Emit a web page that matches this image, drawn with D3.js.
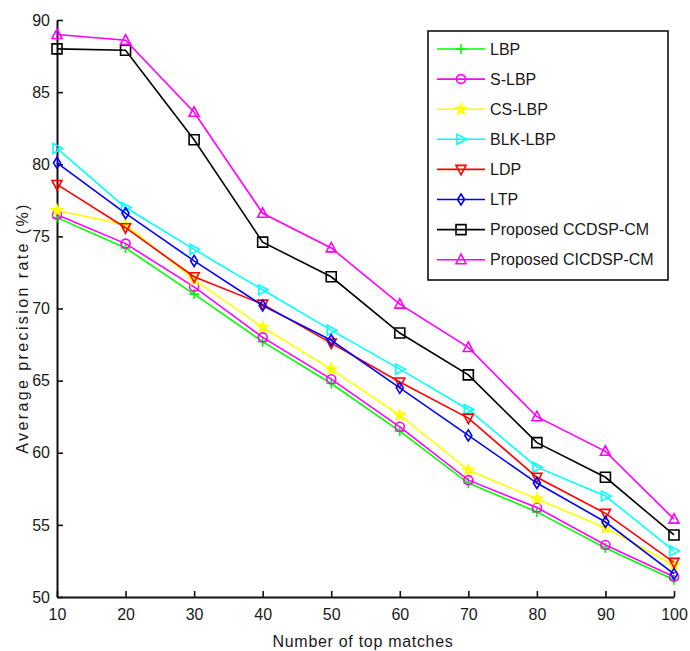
<!DOCTYPE html>
<html>
<head>
<meta charset="utf-8">
<script src="https://cdn.jsdelivr.net/npm/d3@7"></script>
<style>
  body { margin: 0; background: #fff; }
  text { font-family: "Liberation Sans Narrow", "Liberation Sans", Arial, sans-serif; fill: #1a1a1a; }
</style>
</head>
<body>
<div id="chart"></div>
<script>
// x values (number of top matches)
var matches = [10, 20, 30, 40, 50, 60, 70, 80, 90, 100];
var yTicks = [50, 55, 60, 65, 70, 75, 80, 85, 90];

// average precision rate (%) per method
var lbp     = [76.3, 74.2, 71.0, 67.7, 64.8, 61.5, 57.9, 55.9, 53.4, 51.2];
var sLbp    = [76.5, 74.5, 71.5, 68.0, 65.1, 61.8, 58.1, 56.2, 53.6, 51.4];
var csLbp   = [76.8, 75.8, 72.0, 68.7, 65.8, 62.6, 58.8, 56.8, 54.8, 52.2];
var blkLbp  = [81.1, 77.0, 74.1, 71.3, 68.5, 65.8, 63.0, 59.0, 57.0, 53.2];
var ldp     = [78.6, 75.6, 72.2, 70.3, 67.6, 64.9, 62.4, 58.3, 55.8, 52.4];
var ltp     = [80.1, 76.6, 73.3, 70.2, 67.8, 64.5, 61.2, 57.9, 55.2, 51.6];
var ccdsp   = [88.0, 87.9, 81.7, 74.6, 72.2, 68.3, 65.4, 60.7, 58.3, 54.3];
var cicdsp  = [89.0, 88.6, 83.6, 76.6, 74.2, 70.3, 67.3, 62.5, 60.1, 55.4];

var seriesNames = ["LBP", "S-LBP", "CS-LBP", "BLK-LBP", "LDP", "LTP", "Proposed CCDSP-CM", "Proposed CICDSP-CM"];
var seriesValues = [lbp, sLbp, csLbp, blkLbp, ldp, ltp, ccdsp, cicdsp];
var seriesColors = ["#00ff00", "#ff00ff", "#ffff00", "#00ffff", "#ff0000", "#0000ff", "#000000", "#ff00ff"];
var seriesMarkers = ["plus", "circle", "star", "triRight", "triDown", "diamond", "square", "triUp"];

var W = 690, H = 651;
var svg = d3.select("#chart").append("svg")
    .attr("width", W)
    .attr("height", H);

var x = d3.scaleLinear().domain([10, 100]).range([57, 674]);
var y = d3.scaleLinear().domain([50, 90]).range([597, 20]);

// custom marker shapes (matlab style)
function markerPath(type) {
    var p = d3.path();
    var r = 5;
    if (type === "plus") {
        p.moveTo(-r, 0); p.lineTo(r, 0);
        p.moveTo(0, -r); p.lineTo(0, r);
    } else if (type === "circle") {
        p.arc(0, 0, 4.5, 0, 2 * Math.PI);
    } else if (type === "square") {
        p.rect(-5, -5, 10, 10);
    } else if (type === "diamond") {
        p.moveTo(0, -5.5); p.lineTo(3.5, 0); p.lineTo(0, 5.5); p.lineTo(-3.5, 0); p.closePath();
    } else if (type === "triUp") {
        p.moveTo(0, -5.5); p.lineTo(5, 4); p.lineTo(-5, 4); p.closePath();
    } else if (type === "triDown") {
        p.moveTo(0, 5.5); p.lineTo(5, -4); p.lineTo(-5, -4); p.closePath();
    } else if (type === "triRight") {
        p.moveTo(5.5, 0); p.lineTo(-4, -5); p.lineTo(-4, 5); p.closePath();
    } else if (type === "star") {
        for (var i = 0; i < 10; i++) {
            var a = -Math.PI / 2 + i * Math.PI / 5;
            var rr = i % 2 === 0 ? 5.5 : 2.3;
            if (i === 0) p.moveTo(rr * Math.cos(a), rr * Math.sin(a));
            else p.lineTo(rr * Math.cos(a), rr * Math.sin(a));
        }
        p.closePath();
    }
    return p.toString();
}

// --- Axes ---
var yAxis = svg.append("g")
    .attr("transform", "translate(57,0)")
    .call(d3.axisLeft(y).tickValues(yTicks).tickSize(-6).tickSizeOuter(0).tickPadding(7));

var xAxis = svg.append("g")
    .attr("transform", "translate(0,597)")
    .call(d3.axisBottom(x).tickValues(matches).tickSize(-6).tickSizeOuter(0).tickPadding(12));

[xAxis, yAxis].forEach(function (ax) {
    ax.select(".domain").attr("stroke", "#111").attr("stroke-width", 2);
    ax.selectAll(".tick line").attr("stroke", "#111").attr("stroke-width", 1.6);
    ax.selectAll(".tick text").style("font-size", "16px").style("fill", "#1a1a1a");
});

// axis titles
svg.append("text")
    .attr("x", 363)
    .attr("y", 647)
    .attr("text-anchor", "middle")
    .style("font-size", "16px")
    .style("letter-spacing", "0.7px")
    .text("Number of top matches");

svg.append("text")
    .attr("transform", "translate(28,328) rotate(-90)")
    .attr("text-anchor", "middle")
    .style("font-size", "16px")
    .style("letter-spacing", "2.4px")
    .text("Average precision rate (%)");

// --- Lines + markers ---
var line = d3.line()
    .x(function (d, i) { return x(matches[i]); })
    .y(function (d) { return y(d); });

seriesValues.forEach(function (vals, k) {
    var g = svg.append("g");
    g.append("path")
        .datum(vals)
        .attr("d", line)
        .attr("fill", "none")
        .attr("stroke", seriesColors[k])
        .attr("stroke-width", 1.6);
    g.selectAll("path.mk")
        .data(vals)
        .enter().append("path")
        .attr("class", "mk")
        .attr("transform", function (d, i) { return "translate(" + x(matches[i]) + "," + y(d) + ")"; })
        .attr("d", markerPath(seriesMarkers[k]))
        .attr("fill", seriesMarkers[k] === "star" ? seriesColors[k] : "none")
        .attr("stroke", seriesColors[k])
        .attr("stroke-width", 1.6);
});

// --- Legend ---
var legend = svg.append("g");
legend.append("rect")
    .attr("x", 428).attr("y", 31)
    .attr("width", 240).attr("height", 249)
    .attr("fill", "#fff")
    .attr("stroke", "#111")
    .attr("stroke-width", 1.6);

var items = legend.selectAll("g.item")
    .data(seriesNames)
    .enter().append("g")
    .attr("class", "item")
    .attr("transform", function (d, i) { return "translate(0," + (49 + i * 30.1) + ")"; });

items.append("line")
    .attr("x1", 437).attr("x2", 485)
    .attr("stroke", function (d, i) { return seriesColors[i]; })
    .attr("stroke-width", 1.6);

items.append("path")
    .attr("transform", "translate(461,0)")
    .attr("d", function (d, i) { return markerPath(seriesMarkers[i]); })
    .attr("fill", function (d, i) { return seriesMarkers[i] === "star" ? seriesColors[i] : "none"; })
    .attr("stroke", function (d, i) { return seriesColors[i]; })
    .attr("stroke-width", 1.6);

items.append("text")
    .attr("x", 490)
    .attr("dy", "0.35em")
    .style("font-size", "16px")
    .text(function (d) { return d; });
</script>
</body>
</html>
